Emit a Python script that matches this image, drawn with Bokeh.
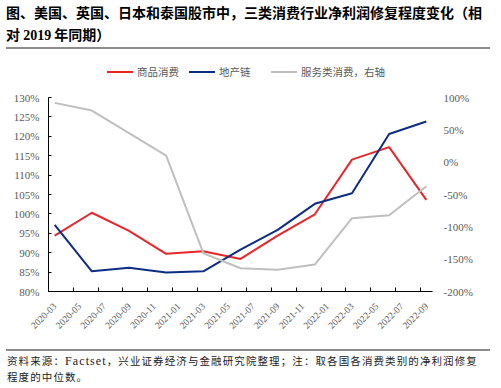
import math
from bokeh.plotting import figure
from bokeh.layouts import column
from bokeh.models import (Range1d, LinearAxis, FixedTicker, PrintfTickFormatter,
                          ColumnDataSource, Div)
from bokeh.embed import file_html
from bokeh.resources import INLINE

# ---------------- data ----------------
dates = ["2020-03", "2020-06", "2020-09", "2020-12", "2021-03", "2021-06",
         "2021-09", "2021-12", "2022-03", "2022-06", "2022-09"]
goods = [94.4, 100.3, 95.6, 89.7, 90.4, 88.4, 94.4, 99.9, 114.0, 117.2, 103.6]
property_chain = [97.2, 85.2, 86.1, 84.9, 85.2, 90.8, 95.9, 102.6, 105.3, 120.6, 123.8]
services = [91.7, 79.8, 45.0, 10.2, -140.8, -164.0, -166.5, -158.3, -86.7, -82.0, -37.2]
tick_labels = ["2020-03", "2020-05", "2020-07", "2020-09", "2020-11", "2021-01",
               "2021-03", "2021-05", "2021-07", "2021-09", "2021-11", "2022-01",
               "2022-03", "2022-05", "2022-07", "2022-09"]
left_ticks = [80, 85, 90, 95, 100, 105, 110, 115, 120, 125, 130]
right_ticks = [-200, -150, -100, -50, 0, 50, 100]
series_names = ["商品消费", "地产链", "服务类消费，右轴"]
title_lines = ["图、美国、英国、日本和泰国股市中，三类消费行业净利润修复程度变化（相",
               "对 <span style=\"font-family:'Liberation Serif'\">2019</span> 年同期）"]
note_lines = ["资料来源：<span style=\"font-family:'Liberation Serif';font-size:12px\">Factset</span>，"
              "兴业证券经济与金融研究院整理；注：取各国各消费类别的净利润修复",
              "程度的中位数。"]

def month_index(s, base="2020-03"):
    y, m = map(int, s.split("-"))
    by, bm = map(int, base.split("-"))
    return (y - by) * 12 + (m - bm)

xs = [month_index(d) for d in dates]
label_pos = [month_index(t) for t in tick_labels]
n_months = month_index(dates[-1]) + 1

src = ColumnDataSource(dict(x=xs, goods=goods, prop=property_chain, serv=services))

RED = "#E8262A"
BLUE = "#0D2C84"
GRAY = "#BFBFBF"
TXT = "#595959"
SEP = "#8C8C8C"
CJK = "'Noto Sans CJK SC'"
COLORS = [RED, BLUE, GRAY]

W = 501
TOP_H = 86
MAIN_H = 254
BOT_H = 388 - TOP_H - MAIN_H

# ---------------- header: title, rule, legend ----------------
parts = ['<div style="position:relative;width:%dpx;height:%dpx;margin:0;padding:0;'
         'font-family:%s;">' % (W, TOP_H, CJK)]
for txt, top_px in zip(title_lines, [3, 25]):
    parts.append('<div style="position:absolute;left:6px;top:%dpx;font-weight:bold;'
                 'font-size:14px;line-height:18px;color:#000;white-space:nowrap;">%s</div>'
                 % (top_px, txt))
parts.append('<div style="position:absolute;left:6px;top:47px;width:484px;height:1.5px;'
             'background:%s;"></div>' % SEP)
for name, col, lx in zip(series_names, COLORS, [107, 189, 271]):
    parts.append('<div style="position:absolute;left:%dpx;top:71px;width:26px;height:2px;'
                 'background:%s;"></div>' % (lx, col))
    parts.append('<div style="position:absolute;left:%dpx;top:64px;font-size:10.5px;'
                 'line-height:15px;color:%s;white-space:nowrap;">%s</div>'
                 % (lx + 30, TXT, name))
parts.append('</div>')
header = Div(text="".join(parts), width=W, height=TOP_H, margin=(0, 0, 0, 0))

# ---------------- main chart ----------------
p = figure(output_backend="svg", toolbar_location=None,
           x_range=Range1d(-0.5, n_months - 0.5), y_range=Range1d(80, 130),
           frame_width=384, frame_height=194,
           min_border_left=48, min_border_right=69, min_border_top=11, min_border_bottom=49)
p.outline_line_color = None
p.xgrid.visible = False
p.ygrid.visible = False
p.background_fill_color = "white"
p.border_fill_color = "white"
p.extra_y_ranges = {"right": Range1d(-200, 100)}

xa = p.xaxis[0]
xa.ticker = FixedTicker(ticks=label_pos, minor_ticks=[v - 0.5 for v in label_pos])
xa.major_label_overrides = {v: t for v, t in zip(label_pos, tick_labels)}
xa.major_label_orientation = math.pi / 4
xa.major_tick_in = 0
xa.major_tick_out = 0
xa.minor_tick_in = 4
xa.minor_tick_out = 0
xa.minor_tick_line_color = "black"
xa.axis_line_color = "black"
xa.major_label_text_font = "Liberation Serif"
xa.major_label_text_font_size = "9.5px"
xa.major_label_text_color = TXT
xa.major_label_standoff = 13

ya = p.yaxis[0]
ya.ticker = FixedTicker(ticks=left_ticks)
ya.formatter = PrintfTickFormatter(format="%d%%")
ya.major_tick_in = 3
ya.major_tick_out = 0
ya.minor_tick_in = 0
ya.minor_tick_out = 0
ya.axis_line_color = "black"
ya.major_tick_line_color = "black"
ya.major_label_text_font = "Liberation Serif"
ya.major_label_text_font_size = "11px"
ya.major_label_text_color = TXT
ya.major_label_standoff = 9

ra = LinearAxis(y_range_name="right", ticker=FixedTicker(ticks=right_ticks),
                formatter=PrintfTickFormatter(format="%d%%"))
ra.axis_line_color = None
ra.major_tick_line_color = None
ra.minor_tick_line_color = None
ra.major_tick_in = 0
ra.major_tick_out = 0
ra.minor_tick_in = 0
ra.minor_tick_out = 0
ra.major_label_text_font = "Liberation Serif"
ra.major_label_text_font_size = "11px"
ra.major_label_text_color = TXT
ra.major_label_standoff = 11
p.add_layout(ra, "right")

p.line("x", "goods", source=src, line_color=RED, line_width=2, legend_label=series_names[0])
p.line("x", "prop", source=src, line_color=BLUE, line_width=2, legend_label=series_names[1])
p.line("x", "serv", source=src, line_color=GRAY, line_width=2, y_range_name="right",
       legend_label=series_names[2])
p.legend.visible = False

# ---------------- footer: rule, source note ----------------
fparts = ['<div style="position:relative;width:%dpx;height:%dpx;margin:0;padding:0;'
          'font-family:%s;">' % (W, BOT_H, CJK)]
fparts.append('<div style="position:absolute;left:6px;top:9px;width:484px;height:1.5px;'
              'background:%s;"></div>' % SEP)
for txt, top_px in zip(note_lines, [13, 28.5]):
    fparts.append('<div style="position:absolute;left:7px;top:%.1fpx;font-size:10.5px;'
                  'letter-spacing:1.1px;line-height:15px;color:#222;white-space:nowrap;">%s</div>'
                  % (top_px, txt))
fparts.append('</div>')
footer = Div(text="".join(fparts), width=W, height=BOT_H, margin=(0, 0, 0, 0))

layout = column(header, p, footer, spacing=0)
open("out.html", "w").write(file_html(layout, INLINE))
